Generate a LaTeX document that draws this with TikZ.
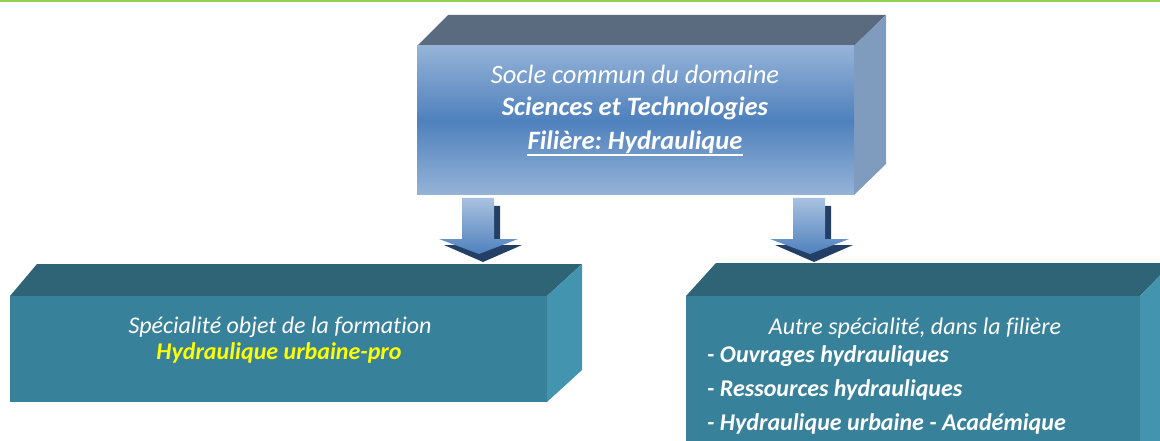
\documentclass[tikz,border=0pt]{standalone}
\usepackage{fontspec}
\setmainfont[Ligatures={NoCommon}]{Carlito}
\frenchspacing
\definecolor{topface}{HTML}{5A6B80}
\definecolor{sideface}{HTML}{7F9CBF}
\definecolor{lightblue}{HTML}{95B3D7}
\definecolor{midblue}{HTML}{4F81BD}
\definecolor{tealfront}{HTML}{38819A}
\definecolor{tealtop}{HTML}{2E6475}
\definecolor{tealside}{HTML}{4395AF}
\definecolor{arrowlight}{HTML}{A9C1E0}
\definecolor{arrowshadow}{HTML}{243F66}
\definecolor{greenline}{HTML}{92D050}
\tikzset{
  txt/.style={text=white, inner sep=0pt},
  itxt/.style={txt, font=\fontsize{24}{28}\selectfont\itshape},
  btxt/.style={txt, font=\fontsize{24}{28}\selectfont\bfseries\itshape},
  bigitxt/.style={txt, anchor=base, font=\fontsize{26.5}{30}\selectfont\itshape},
  bigbtxt/.style={txt, anchor=base, font=\fontsize{26.5}{30}\selectfont\bfseries\itshape},
  arrowbody/.style={top color=arrowlight, bottom color=midblue, draw=none},
  arrowshade/.style={fill=arrowshadow, draw=none},
}
\begin{document}
\begin{tikzpicture}[x=1pt,y=-1pt]
\useasboundingbox (0,0) rectangle (1160,441);
\clip (0,0) rectangle (1160,441);
% green top line
\draw[greenline, line width=2.5pt] (0,0.5) -- (1160,0.5);

% top box
\fill[topface] (417,46) -- (448,15) -- (886,15) -- (854,46) -- cycle;
\fill[sideface] (854,46) -- (886,15) -- (886,164) -- (854,195) -- cycle;
\shade[top color=lightblue, bottom color=lightblue, middle color=midblue] (417,46) rectangle (854,195);
\node[bigitxt] (t1) at (635,84) {Socle commun du domaine};
\node[bigbtxt] (t2) at (635,116) {Sciences et Technologies};
\node[bigbtxt] (t3) at (635,150) {Filière: Hydraulique};
\draw[white, line width=1.6pt] (t3.base west) ++(0,5) -- ([yshift=-5pt]t3.base east);

% left box
\fill[tealtop] (10,296) -- (37,264) -- (582,264) -- (547,296) -- cycle;
\fill[tealside] (547,296) -- (582,264) -- (582,370) -- (547,402) -- cycle;
\fill[tealfront] (10,296) rectangle (547,402);
\node[itxt] (l1) at (280,327) {Spécialité objet de la formation};
\node[btxt, text={rgb,255:red,255;green,255;blue,0}] (l2) at (279,353) {Hydraulique urbaine-pro};

% right box
\fill[tealtop] (686,296) -- (716,263) -- (1172,263) -- (1140,296) -- cycle;
\fill[tealside] (1140,296) -- (1172,263) -- (1172,460) -- (1140,460) -- cycle;
\fill[tealfront] (686,296) rectangle (1140,460);
\node[itxt] (r1) at (915,328) {Autre spécialité, dans la filière};
\node[btxt, anchor=west] (r2) at (707,356) {- Ouvrages hydrauliques};
\node[btxt, anchor=west] (r3) at (707,390) {- Ressources hydrauliques};
\node[btxt, anchor=west] (r4) at (707,424) {- Hydraulique urbaine - Académique};

% arrows
\foreach \cx/\nm in {479/la, 810/ra}{
  \coordinate (\nm) at (\cx,254);
  \fill[arrowshade] ([shift={(-13,-48)}]\nm) -- ([shift={(21,-48)}]\nm) -- ([shift={(21,-9)}]\nm) -- ([shift={(43,-9)}]\nm) -- ([shift={(4,8)}]\nm) -- ([shift={(-35,-9)}]\nm) -- ([shift={(-13,-9)}]\nm) -- cycle;
  \shade[arrowbody] ([shift={(-17,-56)}]\nm) -- ([shift={(15,-56)}]\nm) -- ([shift={(15,-15)}]\nm) -- ([shift={(39,-15)}]\nm) -- (\nm) -- ([shift={(-40,-15)}]\nm) -- ([shift={(-17,-15)}]\nm) -- cycle;
}
\end{tikzpicture}
\end{document}
